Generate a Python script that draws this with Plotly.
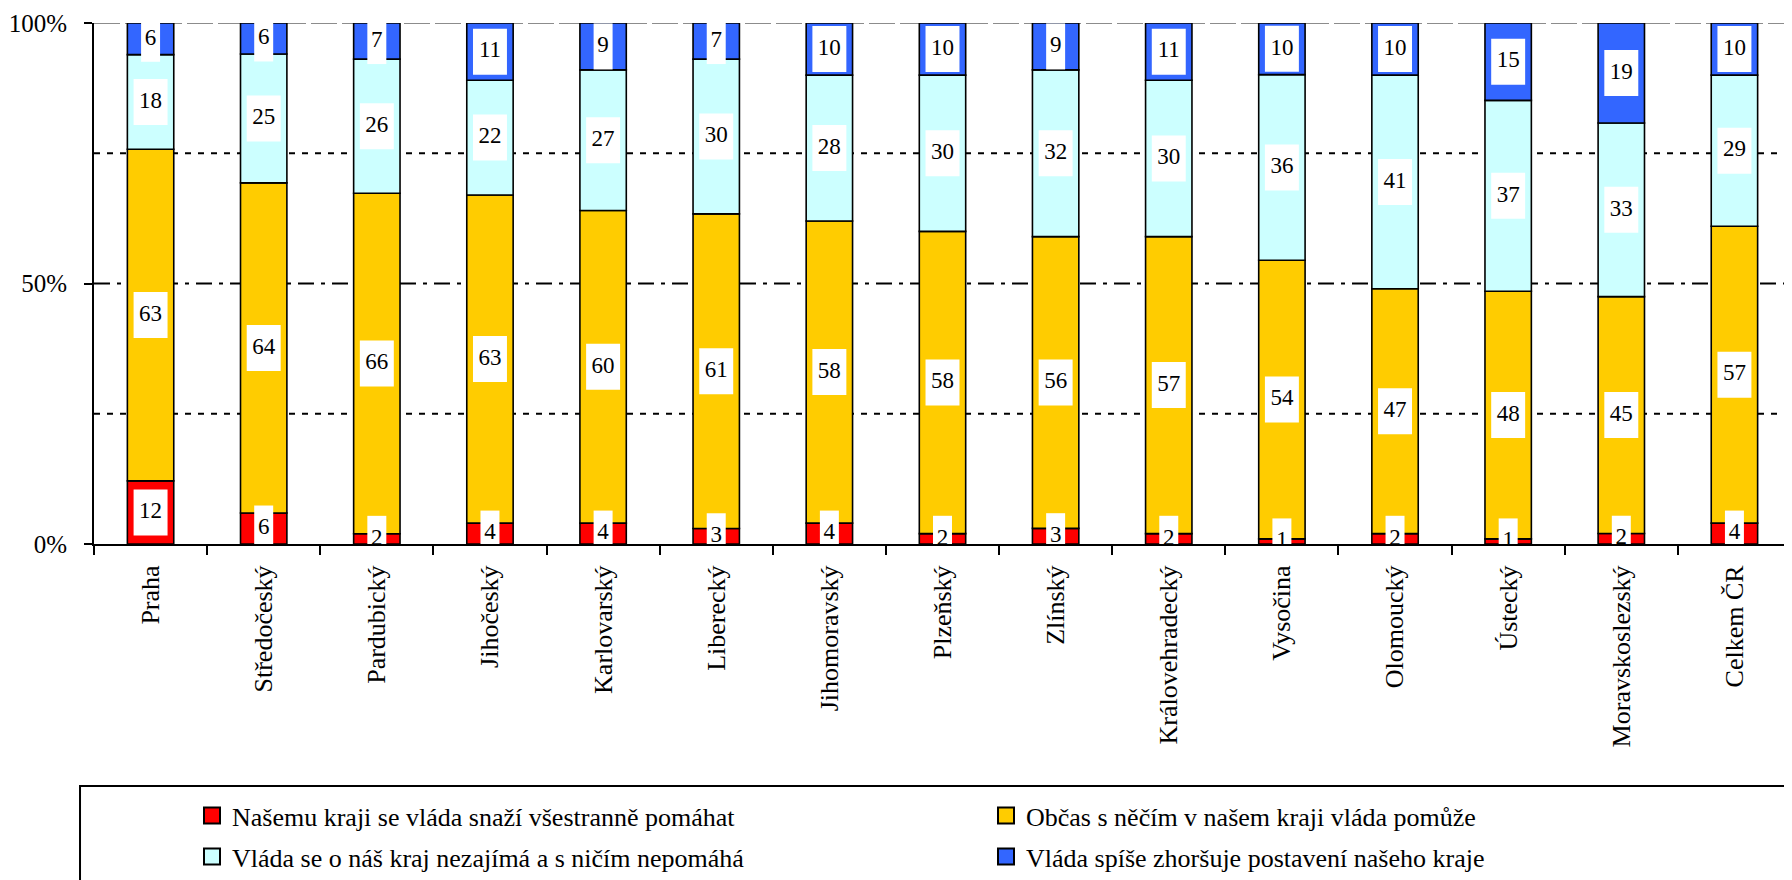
import plotly.graph_objects as go

categories = ["Praha", "Středočeský", "Pardubický", "Jihočeský", "Karlovarský",
              "Liberecký", "Jihomoravský", "Plzeňský", "Zlínský", "Královehradecký",
              "Vysočina", "Olomoucký", "Ústecký", "Moravskoslezský", "Celkem ČR"]

series_names = ["Našemu kraji se vláda snaží všestranně pomáhat",
                "Občas s něčím v našem kraji vláda pomůže",
                "Vláda se o náš kraj nezajímá a s ničím nepomáhá",
                "Vláda spíše zhoršuje postavení našeho kraje"]

helps = [12, 6, 2, 4, 4, 3, 4, 2, 3, 2, 1, 2, 1, 2, 4]
sometimes = [63, 64, 66, 63, 60, 61, 58, 58, 56, 57, 54, 47, 48, 45, 57]
not_interested = [18, 25, 26, 22, 27, 30, 28, 30, 32, 30, 36, 41, 37, 33, 29]
worsens = [6, 6, 7, 11, 9, 7, 10, 10, 9, 11, 10, 10, 15, 19, 10]

y_tick_vals = [0, 50, 100]
y_tick_text = ["0%", "50%", "100%"]

colors = ["#FF0000", "#FFCC00", "#CCFFFF", "#3366FF"]
legend_ids = ["legend", "legend", "legend2", "legend2"]
FONT = "Liberation Serif"

# page offset (browser body margin) compensation
OFF = 8
W, H = 1792 - OFF, 880 - OFF
ML, MT = 92 - OFF, 23 - OFF
MR = 1
MB = H - (544 - OFF)
PW, PH = W - ML - MR, H - MT - MB
cat_px = PW / len(categories)

series = [helps, sometimes, not_interested, worsens]
totals = [sum(v[i] for v in series) for i in range(len(categories))]

fig = go.Figure()

box_x, box_base, box_h, box_w, txt_x, txt_y, txt = [], [], [], [], [], [], []
bh = 46 / PH * 100
cum = [0.0] * len(categories)
for name, vals, col, lg in zip(series_names, series, colors, legend_ids):
    pct = [v / t * 100 for v, t in zip(vals, totals)]
    fig.add_trace(go.Bar(
        x=categories, y=pct, base=list(cum), width=0.41, name=name,
        showlegend=False,
        marker=dict(color=col, line=dict(color="black", width=1.6)),
        hoverinfo="skip"))
    for i, (v, p) in enumerate(zip(vals, pct)):
        mid = cum[i] + p / 2
        wpx = 19 if len(str(v)) == 1 else 34
        box_x.append(categories[i])
        box_base.append(mid - bh / 2)
        box_h.append(bh)
        box_w.append(wpx / cat_px)
        txt_x.append(categories[i])
        txt_y.append(mid)
        txt.append(str(v))
    cum = [c + p for c, p in zip(cum, pct)]

fig.add_trace(go.Bar(x=box_x, y=box_h, base=box_base, width=box_w,
                     marker=dict(color="white", line=dict(width=0)),
                     showlegend=False, hoverinfo="skip"))
fig.add_trace(go.Scatter(x=txt_x, y=txt_y, text=txt, mode="text",
                         textfont=dict(family=FONT, size=23, color="black"),
                         cliponaxis=True, showlegend=False, hoverinfo="skip"))

# legend entries (square swatches)
for name, col, lg in zip(series_names, colors, legend_ids):
    fig.add_trace(go.Scatter(x=[None], y=[None], mode="markers", name=name, legend=lg,
                             marker=dict(symbol="square", size=16, color=col,
                                         line=dict(color="black", width=2)),
                             hoverinfo="skip"))

shapes = []
for yv in [25, 75]:
    shapes.append(dict(type="line", xref="paper", yref="y", x0=0, x1=1, y0=yv, y1=yv,
                       line=dict(color="black", width=2, dash="6px,7px"), layer="below"))
shapes.append(dict(type="line", xref="paper", yref="y", x0=0, x1=1, y0=50, y1=50,
                   line=dict(color="black", width=2, dash="16px,7px,4px,7px"), layer="below"))
shapes.append(dict(type="line", xref="paper", yref="y", x0=0, x1=1, y0=100, y1=100,
                   line=dict(color="#8c8c8c", width=2, dash="26px,5px"), layer="below"))
shapes.append(dict(type="line", xref="paper", yref="paper", x0=1, x1=1, y0=0, y1=1,
                   line=dict(color="#aaaaaa", width=1.5), layer="below"))
# legend frame
shapes.append(dict(type="rect", xref="paper", yref="paper",
                   x0=(78 - OFF - ML) / PW, x1=1.02,
                   y0=((544 - OFF) - (786 - OFF)) / PH, y1=-0.75,
                   line=dict(color="black", width=2), fillcolor="rgba(0,0,0,0)", layer="above"))

legend_common = dict(orientation="h", xref="container", yref="container",
                     x=(192 - OFF) / W, xanchor="left", yanchor="top", traceorder="normal",
                     entrywidth=749, entrywidthmode="pixels",
                     font=dict(family=FONT, size=26, color="black"),
                     bgcolor="rgba(0,0,0,0)", borderwidth=0)

fig.update_layout(
    width=W, height=H,
    margin=dict(l=ML, r=MR, t=MT, b=MB),
    barmode="overlay",
    plot_bgcolor="white", paper_bgcolor="white",
    font=dict(family=FONT, color="black"),
    shapes=shapes,
    showlegend=True,
    legend=dict(legend_common, y=1 - (792 - OFF) / H),
    legend2=dict(legend_common, y=1 - (833 - OFF) / H),
    xaxis=dict(type="category", categoryorder="array", categoryarray=categories,
               range=[-0.5, len(categories) - 0.5],
               tickson="boundaries", ticks="outside", ticklen=9, tickwidth=2,
               tickcolor="black", showline=True, linecolor="black", linewidth=2,
               showgrid=False, tickangle=-90, ticklabelstandoff=9,
               tickfont=dict(family=FONT, size=26, color="black")),
    yaxis=dict(range=[0, 100], tickvals=y_tick_vals, ticktext=y_tick_text,
               ticks="outside", ticklen=8, tickwidth=2, tickcolor="black",
               showline=True, linecolor="black", linewidth=2,
               showgrid=False, zeroline=False, fixedrange=True,
               ticklabelstandoff=12,
               tickfont=dict(family=FONT, size=25, color="black")),
)

fig.write_html("out.html")
